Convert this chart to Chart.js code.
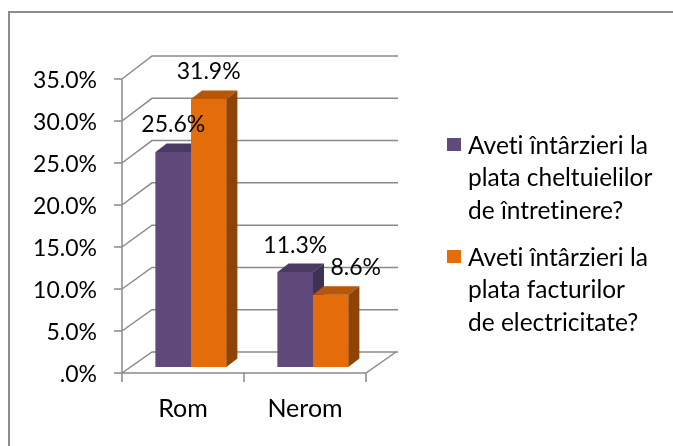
<!DOCTYPE html>
<html>
<head>
<meta charset="utf-8">
<script src="https://cdn.jsdelivr.net/npm/chart.js@4.4.1/dist/chart.umd.min.js"></script>
<style>
  html, body { margin: 0; padding: 0; background: #fff; }
  #wrap { width: 673px; height: 446px; position: relative; }
</style>
</head>
<body>
<div id="wrap"><canvas id="chart" width="673" height="446"></canvas></div>
<script>
// Chart data
const categories = ["Rom", "Nerom"];
const seriesNames = [
  ["Aveti întârzieri la", "plata cheltuielilor", "de întretinere?"],
  ["Aveti întârzieri la", "plata facturilor", "de electricitate?"]
];
const maintenanceValues = [25.6, 11.3];
const electricityValues = [31.9, 8.6];
const yTicks = [0, 5, 10, 15, 20, 25, 30, 35];

// Look
const FONT = "Lato";
const GRID = "#8a8a8a";
const FRONT = { dx: -8, dy: 6 };        // front wall vs. bar plane
const WALL_DX = 30;                      // depth of the back wall
const BAR_DEPTH = { dx: 11, dy: -8.5 };  // depth of the 3D bars
const labelNudge = { "1:1": 25 };        // keep 8.6% clear of 11.3%

function fmtPct(v) {
  return (v.toFixed(1) + "%").replace(/^0\./, ".");
}

// Lato joins "ti" into a ligature; the original font does not
function noLig(s) {
  return s.replace(/ti/g, "t\u200Ci");
}

function wallDy(v, max) {
  return -21 - 2 * v / max;
}

function poly(ctx, pts) {
  ctx.beginPath();
  ctx.moveTo(pts[0][0], pts[0][1]);
  for (let k = 1; k < pts.length; k++) ctx.lineTo(pts[k][0], pts[k][1]);
  ctx.closePath();
  ctx.fill();
}

// Frame, walls, floor and front axis
const wallsPlugin = {
  id: "walls",
  beforeDraw(chart) {
    const ctx = chart.ctx;
    ctx.save();
    ctx.strokeStyle = "#8c8c8c";
    ctx.lineWidth = 2;
    ctx.strokeRect(9, 12, 720, 480);
    ctx.restore();
  },
  beforeDatasetsDraw(chart) {
    const ctx = chart.ctx;
    const ys = chart.scales.y;
    const area = chart.chartArea;
    const left = area.left + FRONT.dx;
    const right = area.right + FRONT.dx;
    const max = ys.max;
    ctx.save();
    ctx.strokeStyle = GRID;
    ctx.lineWidth = 1.5;
    ctx.beginPath();
    yTicks.forEach((v) => {
      const fy = ys.getPixelForValue(v) + FRONT.dy;
      const by = fy + wallDy(v, max);
      // tick mark on the front axis
      ctx.moveTo(left - 8, fy);
      ctx.lineTo(left, fy);
      // side wall + back wall gridline
      ctx.moveTo(left, fy);
      ctx.lineTo(left + WALL_DX, by);
      ctx.lineTo(right + WALL_DX + 2, by);
    });
    const f0 = ys.getPixelForValue(0) + FRONT.dy;
    const fTop = ys.getPixelForValue(max) + FRONT.dy;
    // front vertical axis
    ctx.moveTo(left, fTop);
    ctx.lineTo(left, f0);
    // floor front edge and right edge
    ctx.moveTo(left, f0);
    ctx.lineTo(right, f0);
    ctx.lineTo(right + WALL_DX, f0 + wallDy(0, max));
    // category ticks
    const n = categories.length;
    for (let i = 0; i <= n; i++) {
      const tx = left + (i * (right - left)) / n;
      ctx.moveTo(tx, f0);
      ctx.lineTo(tx, f0 + 9);
    }
    ctx.stroke();
    ctx.restore();
  },
};

// 3D faces, drawn bar by bar so that neighbours overlap properly
const barsPlugin = {
  id: "bars3d",
  afterDatasetsDraw(chart) {
    const ctx = chart.ctx;
    const datasets = chart.data.datasets;
    ctx.save();
    for (let i = 0; i < categories.length; i++) {
      datasets.forEach((ds, d) => {
        const bar = chart.getDatasetMeta(d).data[i];
        bar.draw(ctx);
        const { x, y, base, width } = bar.getProps(["x", "y", "base", "width"], true);
        const l = x - width / 2;
        const r = x + width / 2;
        ctx.fillStyle = ds.topColor;
        poly(ctx, [[l, y], [r, y], [r + BAR_DEPTH.dx, y + BAR_DEPTH.dy], [l + BAR_DEPTH.dx, y + BAR_DEPTH.dy]]);
        ctx.fillStyle = ds.sideColor;
        poly(ctx, [[r, y], [r + BAR_DEPTH.dx, y + BAR_DEPTH.dy], [r + BAR_DEPTH.dx, base + BAR_DEPTH.dy], [r, base]]);
      });
    }
    // value labels
    ctx.fillStyle = "#000";
    ctx.font = "23px " + FONT;
    ctx.textAlign = "center";
    ctx.textBaseline = "middle";
    datasets.forEach((ds, d) => {
      chart.getDatasetMeta(d).data.forEach((bar, i) => {
        const nudge = labelNudge[d + ":" + i] || 0;
        ctx.fillText(fmtPct(ds.data[i]), bar.x + nudge, bar.y - 27);
      });
    });
    ctx.restore();
  },
  afterDraw(chart) {
    const ctx = chart.ctx;
    ctx.save();
    ctx.font = "24.5px " + FONT;
    ctx.textAlign = "left";
    ctx.textBaseline = "middle";
    let ty = 146;
    chart.data.datasets.forEach((ds, d) => {
      ctx.fillStyle = ds.backgroundColor;
      ctx.fillRect(447, ty - 8, 14, 13);
      ctx.fillStyle = "#000";
      seriesNames[d].forEach((t, k) => ctx.fillText(noLig(t), 468, ty + k * 32.5));
      ty += 112;
    });
    ctx.restore();
  },
};

const ctx = document.getElementById("chart");
new Chart(ctx, {
  type: "bar",
  data: {
    labels: categories,
    datasets: [
      {
        label: seriesNames[0].join(" "),
        data: maintenanceValues,
        backgroundColor: "#5f4a7b",
        topColor: "#4a3a61",
        sideColor: "#403152",
        borderWidth: 0,
        barPercentage: 1,
        categoryPercentage: 0.58,
      },
      {
        label: seriesNames[1].join(" "),
        data: electricityValues,
        backgroundColor: "#e46c0a",
        topColor: "#b65709",
        sideColor: "#8f4306",
        borderWidth: 0,
        barPercentage: 1,
        categoryPercentage: 0.58,
      },
    ],
  },
  options: {
    responsive: false,
    animation: false,
    devicePixelRatio: 1,
    layout: {
      padding: { top: 73, left: 0, right: 299, bottom: 0 },
    },
    plugins: {
      legend: { display: false },
      tooltip: { enabled: false },
    },
    scales: {
      y: {
        min: 0,
        max: 35,
        afterBuildTicks: (s) => {
          s.ticks = yTicks.map((v) => ({ value: v }));
        },
        afterFit: (s) => {
          s.width = 130;
        },
        grid: { display: false, drawTicks: false, tickLength: 0 },
        border: { display: false },
        ticks: {
          callback: (v) => fmtPct(v),
          font: { family: FONT, size: 23 },
          color: "#000",
          padding: 33,
          labelOffset: 8,
        },
      },
      x: {
        afterFit: (s) => {
          s.height = 79;
        },
        grid: { display: false, drawTicks: false, tickLength: 0 },
        border: { display: false },
        ticks: {
          font: { family: FONT, size: 25 },
          color: "#000",
          padding: 27,
          labelOffset: -8,
          maxRotation: 0,
        },
      },
    },
  },
  plugins: [wallsPlugin, barsPlugin],
});
</script>
</body>
</html>
